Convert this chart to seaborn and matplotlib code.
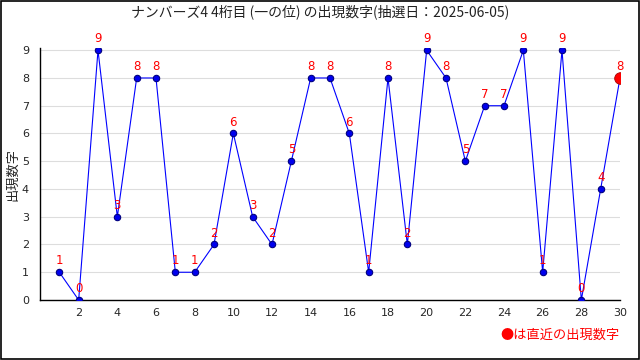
import matplotlib
matplotlib.use("Agg")
import matplotlib.pyplot as plt
import seaborn as sns
import pandas as pd
from matplotlib.ticker import MultipleLocator
from matplotlib.patches import Rectangle

draws = list(range(1, 31))
digits = [1, 0, 9, 3, 8, 8, 1, 1, 2, 6, 3, 2, 5, 8, 8, 6, 1, 8, 2, 9, 8, 5, 7, 7, 9, 1, 9, 0, 4, 8]
title = "ナンバーズ4 4桁目 (一の位) の出現数字(抽選日：2025-06-05)"
ylabel = "出現数字"
note = "●は直近の出現数字"

sns.set_style("white")
plt.rcParams['font.family'] = ['Noto Sans CJK JP', 'DejaVu Sans']

df = pd.DataFrame({"draw": draws, "digit": digits})

fig = plt.figure(figsize=(6.4, 3.6), dpi=100)
ax = fig.add_axes([40/640, 60/360, 580/640, 252/360])

sns.lineplot(data=df, x="draw", y="digit", ax=ax, color="#0000ff", linewidth=0.8,
             marker="o", markersize=4.6, markerfacecolor="#0000ee", markeredgecolor="#000080",
             markeredgewidth=0.8, zorder=3)
last = df.iloc[[-1]]
sns.scatterplot(data=last, x="draw", y="digit", ax=ax, color="#ff0000", s=70,
                edgecolor="#aa0000", linewidth=0.6, zorder=4, legend=False)

for x, y in zip(draws, digits):
    ax.annotate(str(y), (x, y), xytext=(0, 3.5), textcoords="offset points",
                ha="center", va="bottom", color="#ff0000", fontsize=8.5,
                family=['DejaVu Sans'])

ax.set_xlim(0, 30)
ax.set_ylim(0, 9.08)
ax.xaxis.set_minor_locator(MultipleLocator(1))
ax.set_xticks(range(2, 31, 2))
ax.set_yticks(range(0, 10))
ax.tick_params(axis='x', which='major', direction='in', length=5, width=0.8, labelsize=8, pad=6)
ax.tick_params(axis='x', which='minor', direction='in', length=3, width=0.8)
ax.tick_params(axis='y', which='major', length=0, labelsize=8, pad=8)
for lab in ax.get_xticklabels() + ax.get_yticklabels():
    lab.set_family(['DejaVu Sans'])
ax.yaxis.grid(True, color="#dddddd", linewidth=0.8)
ax.set_axisbelow(True)
for s in ["top", "right"]:
    ax.spines[s].set_visible(False)
for s in ["left", "bottom"]:
    ax.spines[s].set_color("black")
    ax.spines[s].set_linewidth(1.0)
ax.set_xlabel("")
ax.set_ylabel(ylabel, fontsize=9.5)
ax.yaxis.set_label_coords(-0.036, 0.5)

fig.text(0.5, 1 - 12/360, title, ha="center", va="center", fontsize=10, color="#222222")
fig.text(620/640, 1 - 335/360, note, ha="right", va="center", fontsize=9.5, color="#ff0000")
fig.patches.append(Rectangle((0.0015, 0.0025), 0.997, 0.995, transform=fig.transFigure,
                             fill=False, edgecolor="black", linewidth=1.2))

fig.savefig("out.png", dpi=100)
